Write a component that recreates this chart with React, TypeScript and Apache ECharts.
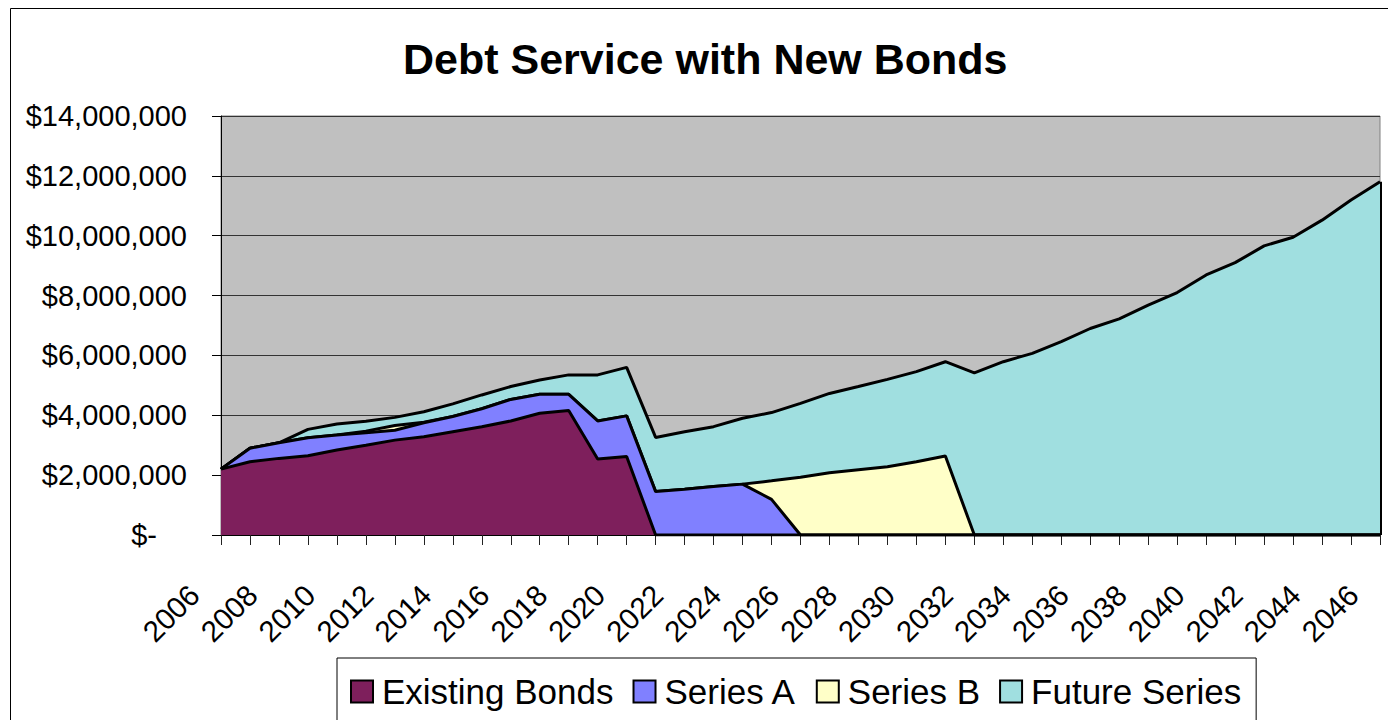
import React, { useEffect, useRef } from "react";
import * as echarts from "echarts";

const years: string[] = [
  "2006", "2007", "2008", "2009", "2010", "2011", "2012", "2013", "2014", "2015",
  "2016", "2017", "2018", "2019", "2020", "2021", "2022", "2023", "2024", "2025",
  "2026", "2027", "2028", "2029", "2030", "2031", "2032", "2033", "2034", "2035",
  "2036", "2037", "2038", "2039", "2040", "2041", "2042", "2043", "2044", "2045", "2046",
];

const existingBonds: number[] = [
  2200000, 2450000, 2560000, 2650000, 2840000, 3000000, 3170000, 3280000, 3450000, 3620000,
  3810000, 4070000, 4160000, 2540000, 2620000, 0, 0, 0, 0, 0,
  0, 0, 0, 0, 0, 0, 0, 0, 0, 0,
  0, 0, 0, 0, 0, 0, 0, 0, 0, 0, 0,
];

const seriesA: number[] = [
  0, 450000, 520000, 600000, 500000, 420000, 330000, 470000, 510000, 600000,
  720000, 630000, 540000, 1270000, 1360000, 1450000, 1530000, 1620000, 1700000, 1190000,
  0, 0, 0, 0, 0, 0, 0, 0, 0, 0,
  0, 0, 0, 0, 0, 0, 0, 0, 0, 0, 0,
];

const seriesB: number[] = [
  0, 0, 0, 0, 0, 50000, 160000, 20000, 0, 0,
  0, 0, 0, 0, 0, 0, 0, 0, 0, 620000,
  1930000, 2080000, 2180000, 2280000, 2450000, 2640000, 0, 0, 0, 0,
  0, 0, 0, 0, 0, 0, 0, 0, 0, 0, 0,
];

const futureSeries: number[] = [
  0, 0, 0, 280000, 370000, 330000, 270000, 350000, 420000, 460000,
  430000, 480000, 650000, 1540000, 1620000, 1810000, 1920000, 2000000, 2200000, 2280000,
  2470000, 2650000, 2780000, 2920000, 3010000, 3150000, 5420000, 5790000, 6070000, 6460000,
  6900000, 7220000, 7680000, 8100000, 8690000, 9100000, 9660000, 9950000, 10520000, 11190000, 11800000,
];

const seriesNames: string[] = ["Existing Bonds", "Series A", "Series B", "Future Series"];
const seriesColors: string[] = ["#7E1F5C", "#8080FF", "#FFFFC8", "#A0DFE0"];

const FONT = "'Liberation Sans', Arial, Helvetica, sans-serif";

export default function App() {
  const ref = useRef<HTMLDivElement>(null);

  useEffect(() => {
    if (!ref.current) return;
    const chart = echarts.init(ref.current, undefined, { renderer: "svg" });
    const dataSets = [existingBonds, seriesA, seriesB, futureSeries];
    const last = years.length - 1;
    const lastTotal = dataSets.reduce((s, arr) => s + arr[last], 0);

    const option: any = {
      animation: false,
      backgroundColor: "#FFFFFF",
      textStyle: { fontFamily: FONT, color: "#000" },
      color: seriesColors,
      title: {
        text: "Debt Service with New Bonds",
        left: 403,
        top: 37,
        padding: 0,
        textStyle: { fontFamily: FONT, fontSize: 43, fontWeight: "bold", color: "#000" },
      },
      legend: {
        data: seriesNames,
        left: 337,
        top: 658,
        padding: [16, 15, 40, 13],
        itemGap: 19,
        itemWidth: 22,
        itemHeight: 22,
        icon: "rect",
        borderColor: "#000",
        borderWidth: 1,
        itemStyle: { borderColor: "#000", borderWidth: 2 },
        textStyle: { fontFamily: FONT, fontSize: 35, color: "#000", padding: [0, 0, 0, 4] },
      },
      grid: {
        left: 221,
        top: 116,
        right: 8,
        bottom: 185,
        show: true,
        backgroundColor: "#C0C0C0",
        borderColor: "#808080",
        borderWidth: 1,
      },
      xAxis: {
        type: "category",
        data: years,
        boundaryGap: false,
        axisLine: { lineStyle: { color: "#000", width: 1 } },
        axisTick: { show: true, interval: 0, length: 10, lineStyle: { color: "#222" } },
        axisLabel: {
          interval: 1,
          rotate: 45,
          margin: 28,
          padding: [0, 38, 0, 0],
          fontSize: 29.5,
          fontFamily: FONT,
          color: "#000",
        },
        splitLine: { show: false },
      },
      yAxis: {
        type: "value",
        min: 0,
        max: 14000000,
        interval: 2000000,
        axisLine: { show: true, lineStyle: { color: "#000", width: 1 } },
        axisTick: { show: true, length: 9, lineStyle: { color: "#000" } },
        axisLabel: {
          margin: 34,
          fontSize: 29,
          fontFamily: FONT,
          color: "#000",
          formatter: (v: number) =>
            v === 0 ? "{z|$-}" : "$" + v.toLocaleString("en-US"),
          rich: {
            z: { fontSize: 29, fontFamily: FONT, color: "#000", padding: [0, 30, 0, 0] },
          },
        },
        splitLine: { show: true, lineStyle: { color: "#333", width: 1 } },
      },
      graphic: [
        {
          type: "rect",
          shape: { x: 10.5, y: 8.5, width: 1400, height: 800 },
          style: { fill: "none", stroke: "#000", lineWidth: 1 },
          silent: true,
          z: 100,
        },
      ],
      series: seriesNames.map((name, i) => ({
        name,
        type: "line",
        stack: "total",
        data: dataSets[i],
        symbol: "none",
        showSymbol: false,
        z: 10 - i,
        itemStyle: { color: seriesColors[i], borderColor: "#000", borderWidth: 2 },
        lineStyle: { color: "#000", width: 3 },
        areaStyle: { color: seriesColors[i], opacity: 1 },
        ...(i === seriesNames.length - 1
          ? {
              markLine: {
                silent: true,
                symbol: ["none", "none"],
                label: { show: false },
                lineStyle: { color: "#000", width: 3, type: "solid" },
                data: [[{ coord: [years[last], 0] }, { coord: [years[last], lastTotal] }]],
              },
            }
          : {}),
      })),
    };

    chart.setOption(option);
    return () => chart.dispose();
  }, []);

  return (
    <div
      ref={ref}
      style={{ position: "absolute", left: 0, top: 0, width: 1388, height: 720 }}
    />
  );
}
